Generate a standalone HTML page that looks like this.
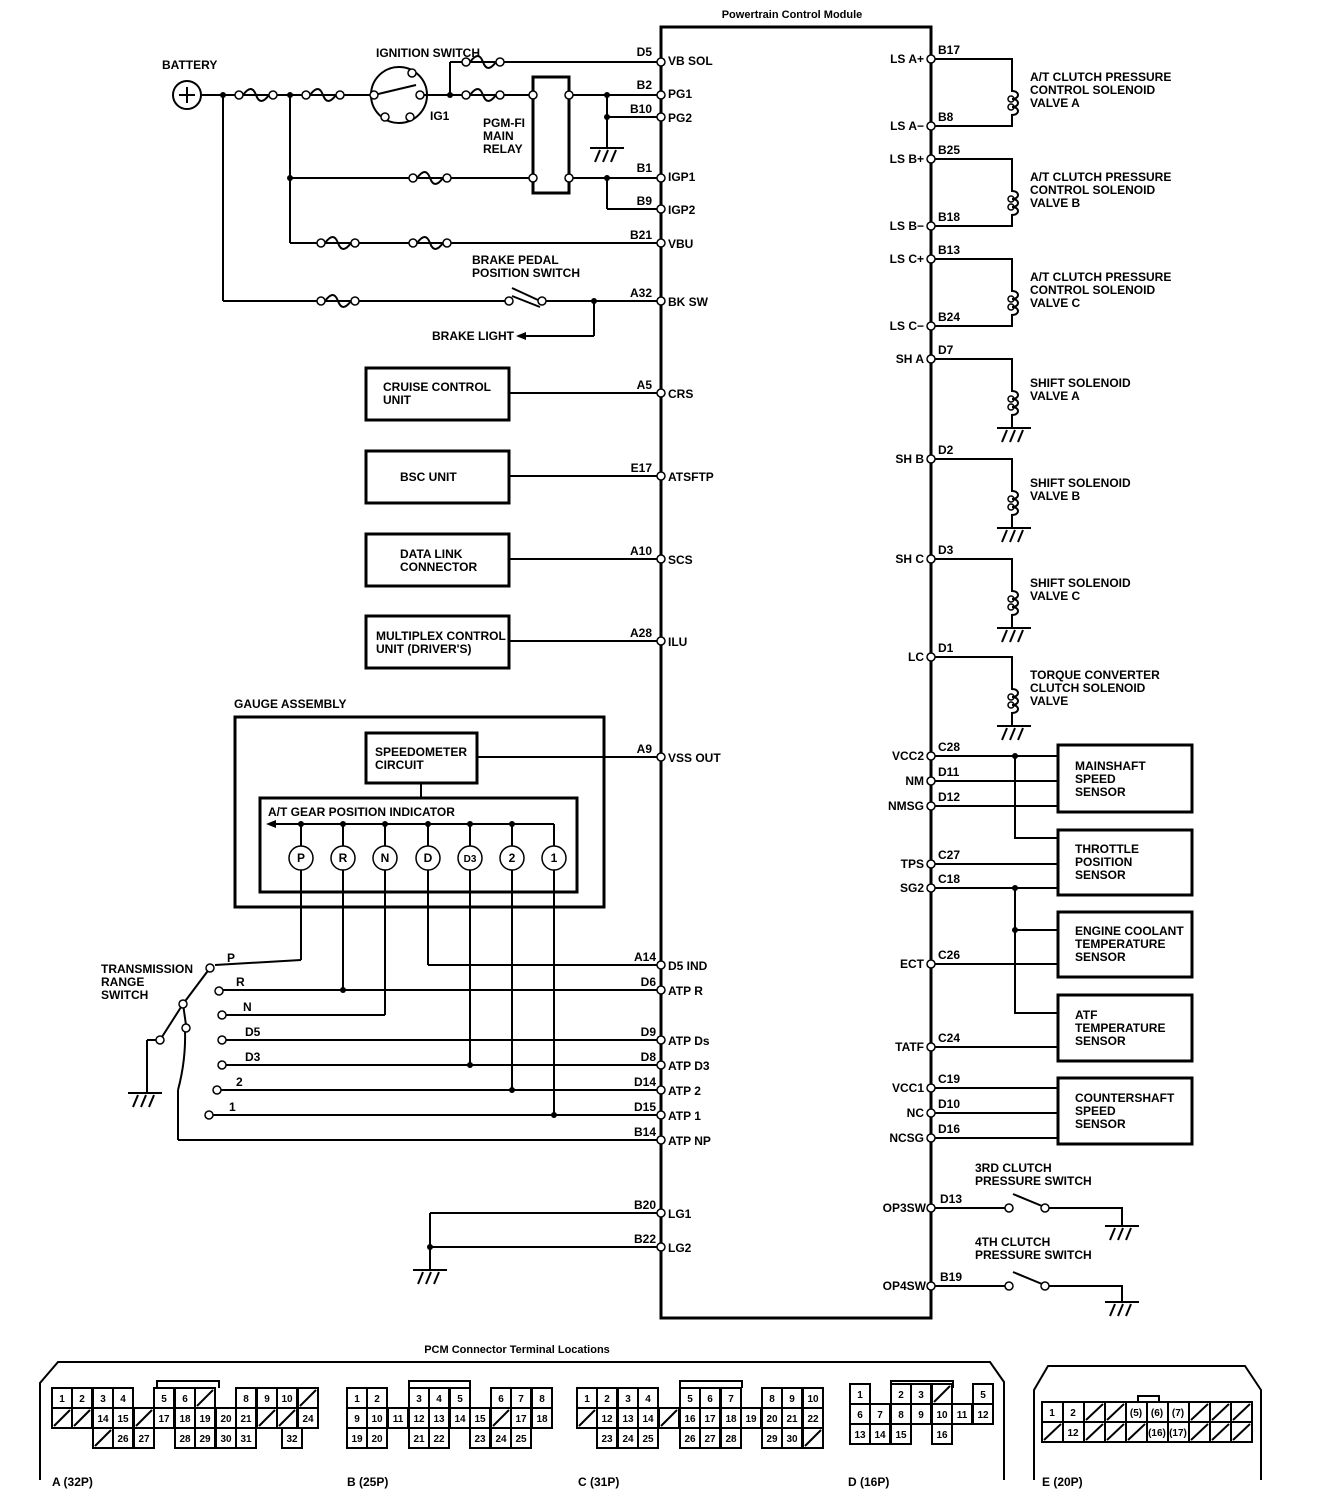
<!DOCTYPE html>
<html><head><meta charset="utf-8"><style>
html,body{margin:0;padding:0;background:#fff}
svg{display:block}
text{font-family:"Liberation Sans Narrow","Liberation Sans",sans-serif;font-weight:bold;font-size:12px;fill:#000}
.w{stroke:#000;stroke-width:2;fill:none}
.t{stroke:#000;stroke-width:3;fill:none}
.p{stroke:#000;stroke-width:1.5;fill:#fff}
.d{fill:#000}
.c rect{fill:#fff;stroke:#000;stroke-width:2}
.c text{font-size:10px;text-anchor:middle}
.s{stroke:#000;stroke-width:2}
</style></head><body>
<svg width="1328" height="1508" viewBox="0 0 1328 1508" xmlns="http://www.w3.org/2000/svg">
<defs>
<g id="fuse"><circle cx="0" cy="0" r="4" class="p"/><path d="M4 0 C10 -8 14 -8 17 0 S24 8 30 0" class="w"/><circle cx="34" cy="0" r="4" class="p"/></g>
<g id="gnd"><line x1="0" y1="0" x2="34" y2="0" class="w"/><line x1="10" y1="2" x2="5" y2="14" class="w"/><line x1="18" y1="2" x2="13" y2="14" class="w"/><line x1="26" y1="2" x2="21" y2="14" class="w"/></g>
<g id="coil"><path d="M0 0 V16 C8 16 8 24 0 24 C8 24 8 32 0 32 C8 32 8 40 0 40 V52" class="w"/><circle cx="-1" cy="24" r="3" class="w" style="stroke-width:1.5"/><circle cx="-1" cy="32" r="3" class="w" style="stroke-width:1.5"/></g>
</defs>

<!-- PCM -->
<rect x="661" y="27" width="270" height="1291" class="t"/>
<text x="792" y="18" text-anchor="middle" style="font-size:11px">Powertrain Control Module</text>

<!-- left wires -->
<g class="w">
<line x1="201" y1="95" x2="374" y2="95"/>
<line x1="223" y1="95" x2="223" y2="301"/><line x1="223" y1="301" x2="509" y2="301"/>
<line x1="290" y1="95" x2="290" y2="243"/><line x1="290" y1="243" x2="660" y2="243"/>
<line x1="290" y1="178" x2="533" y2="178"/>
<line x1="424" y1="95" x2="533" y2="95"/>
<line x1="450" y1="95" x2="450" y2="62"/><line x1="450" y1="62" x2="660" y2="62"/>
<line x1="569" y1="95" x2="660" y2="95"/><line x1="607" y1="95" x2="607" y2="148"/><line x1="607" y1="117" x2="660" y2="117"/>
<line x1="569" y1="178" x2="660" y2="178"/><line x1="607" y1="178" x2="607" y2="209"/><line x1="607" y1="209" x2="660" y2="209"/>
<line x1="542" y1="301" x2="660" y2="301"/><line x1="594" y1="301" x2="594" y2="336"/><line x1="594" y1="336" x2="524" y2="336"/>
<line x1="512" y1="296" x2="540" y2="307" transform="rotate(0)"/>
<line x1="509" y1="297" x2="538" y2="310" style="display:none"/>
<line x1="509" y1="393" x2="660" y2="393"/><line x1="509" y1="476" x2="660" y2="476"/>
<line x1="509" y1="559" x2="660" y2="559"/><line x1="509" y1="641" x2="660" y2="641"/>
<line x1="477" y1="757" x2="660" y2="757"/><line x1="421" y1="783" x2="421" y2="798"/>
</g>
<path d="M516 336 l10 -4 v8 z" class="d"/>
<line x1="512" y1="288" x2="538" y2="300" class="s"/>
<circle cx="509" cy="301" r="4" class="p"/><circle cx="542" cy="301" r="4" class="p"/>
<use href="#fuse" x="239" y="95"/><use href="#fuse" x="306" y="95"/>
<use href="#fuse" x="466" y="62"/><use href="#fuse" x="466" y="95"/>
<use href="#fuse" x="413" y="178"/>
<use href="#fuse" x="321" y="243"/><use href="#fuse" x="413" y="243"/>
<use href="#fuse" x="321" y="301"/>
<use href="#gnd" x="590" y="148"/>
<!-- battery -->
<circle cx="187" cy="95" r="14" class="w"/><line x1="179" y1="95" x2="195" y2="95" class="w"/><line x1="187" y1="87" x2="187" y2="103" class="w"/>
<text x="162" y="69">BATTERY</text>
<!-- ignition switch -->
<circle cx="399" cy="95" r="28" class="w"/>
<line x1="374" y1="95" x2="416" y2="85" class="w"/>
<circle cx="374" cy="95" r="4" class="p"/><circle cx="420" cy="95" r="4" class="p"/><circle cx="412" cy="73" r="4" class="p"/>
<circle cx="385" cy="117" r="4" class="p"/><circle cx="410" cy="117" r="4" class="p"/>
<text x="376" y="57">IGNITION SWITCH</text><text x="430" y="120">IG1</text>
<!-- relay -->
<rect x="533" y="77" width="36" height="116" class="t"/>
<circle cx="533" cy="95" r="4" class="p"/><circle cx="569" cy="95" r="4" class="p"/>
<circle cx="533" cy="178" r="4" class="p"/><circle cx="569" cy="178" r="4" class="p"/>
<text x="483" y="127">PGM-FI</text><text x="483" y="140">MAIN</text><text x="483" y="153">RELAY</text>
<text x="472" y="264">BRAKE PEDAL</text><text x="472" y="277">POSITION SWITCH</text>
<text x="432" y="340">BRAKE LIGHT</text>
<g class="d"><circle cx="223" cy="95" r="3"/><circle cx="290" cy="95" r="3"/><circle cx="450" cy="95" r="3"/><circle cx="290" cy="178" r="3"/><circle cx="607" cy="95" r="3"/><circle cx="607" cy="117" r="3"/><circle cx="607" cy="178" r="3"/><circle cx="594" cy="301" r="3"/></g>

<!-- blocks -->
<g class="t"><rect x="366" y="368" width="143" height="52"/><rect x="366" y="451" width="143" height="52"/><rect x="366" y="534" width="143" height="52"/><rect x="366" y="616" width="143" height="52"/></g>
<text x="383" y="391">CRUISE CONTROL</text><text x="383" y="404">UNIT</text>
<text x="400" y="481">BSC UNIT</text>
<text x="400" y="558">DATA LINK</text><text x="400" y="571">CONNECTOR</text>
<text x="376" y="640">MULTIPLEX CONTROL</text><text x="376" y="653">UNIT (DRIVER'S)</text>

<!-- gauge -->
<text x="234" y="708">GAUGE ASSEMBLY</text>
<rect x="235" y="717" width="369" height="190" class="t"/>
<rect x="366" y="733" width="111" height="50" class="t"/>
<text x="375" y="756">SPEEDOMETER</text><text x="375" y="769">CIRCUIT</text>
<rect x="260" y="798" width="317" height="94" class="t"/>
<text x="268" y="816">A/T GEAR POSITION  INDICATOR</text>
<line x1="272" y1="824" x2="554" y2="824" class="w"/><line x1="554" y1="824" x2="554" y2="846" class="w"/>
<path d="M266 824 l10 -4 v8 z" class="d"/>
<g class="w">
<line x1="301" y1="824" x2="301" y2="846"/><line x1="343" y1="824" x2="343" y2="846"/><line x1="385" y1="824" x2="385" y2="846"/><line x1="428" y1="824" x2="428" y2="846"/><line x1="470" y1="824" x2="470" y2="846"/><line x1="512" y1="824" x2="512" y2="846"/>
<line x1="301" y1="870" x2="301" y2="960"/><line x1="301" y1="960" x2="215" y2="965"/>
<line x1="343" y1="870" x2="343" y2="990"/>
<line x1="385" y1="870" x2="385" y2="1015"/><line x1="385" y1="1015" x2="225" y2="1015"/>
<line x1="428" y1="870" x2="428" y2="965"/><line x1="428" y1="965" x2="660" y2="965"/>
<line x1="470" y1="870" x2="470" y2="1065"/>
<line x1="512" y1="870" x2="512" y2="1090"/>
<line x1="554" y1="870" x2="554" y2="1115"/>
<line x1="222" y1="990" x2="660" y2="990"/>
<line x1="225" y1="1040" x2="660" y2="1040"/>
<line x1="225" y1="1065" x2="660" y2="1065"/>
<line x1="220" y1="1090" x2="660" y2="1090"/>
<line x1="212" y1="1115" x2="660" y2="1115"/>
<line x1="178" y1="1140" x2="660" y2="1140"/>
<line x1="178" y1="1140" x2="178" y2="1090"/><path d="M178 1090 Q186 1060 185 1030"/>
<line x1="210" y1="968" x2="183" y2="1004"/><line x1="183" y1="1004" x2="160" y2="1040"/><line x1="183" y1="1004" x2="186" y2="1025"/>
<line x1="160" y1="1040" x2="147" y2="1040"/><line x1="147" y1="1040" x2="147" y2="1093"/>
<line x1="430" y1="1213" x2="660" y2="1213"/><line x1="430" y1="1213" x2="430" y2="1270"/><line x1="430" y1="1247" x2="660" y2="1247"/>
</g>
<use href="#gnd" x="128" y="1093"/><use href="#gnd" x="413" y="1270"/>
<g class="p"><circle cx="301" cy="858" r="12"/><circle cx="343" cy="858" r="12"/><circle cx="385" cy="858" r="12"/><circle cx="428" cy="858" r="12"/><circle cx="470" cy="858" r="12"/><circle cx="512" cy="858" r="12"/><circle cx="554" cy="858" r="12"/>
<circle cx="210" cy="968" r="4"/><circle cx="219" cy="991" r="4"/><circle cx="222" cy="1015" r="4"/><circle cx="222" cy="1040" r="4"/><circle cx="222" cy="1065" r="4"/><circle cx="217" cy="1090" r="4"/><circle cx="209" cy="1115" r="4"/><circle cx="183" cy="1004" r="4"/><circle cx="160" cy="1040" r="4"/><circle cx="186" cy="1028" r="4"/></g>
<g style="text-anchor:middle"><text x="301" y="862">P</text><text x="343" y="862">R</text><text x="385" y="862">N</text><text x="428" y="862">D</text><text x="470" y="862" style="font-size:10px">D3</text><text x="512" y="862">2</text><text x="554" y="862">1</text></g>
<g class="d"><circle cx="301" cy="824" r="3"/><circle cx="343" cy="824" r="3"/><circle cx="385" cy="824" r="3"/><circle cx="428" cy="824" r="3"/><circle cx="470" cy="824" r="3"/><circle cx="512" cy="824" r="3"/>
<circle cx="343" cy="990" r="3"/><circle cx="470" cy="1065" r="3"/><circle cx="512" cy="1090" r="3"/><circle cx="554" cy="1115" r="3"/><circle cx="430" cy="1247" r="3"/></g>
<text x="101" y="973">TRANSMISSION</text><text x="101" y="986">RANGE</text><text x="101" y="999">SWITCH</text>
<text x="227" y="962">P</text><text x="236" y="986">R</text><text x="243" y="1011">N</text><text x="245" y="1036">D5</text><text x="245" y="1061">D3</text><text x="236" y="1086">2</text><text x="229" y="1111">1</text>

<!-- left pins -->
<g style="text-anchor:end">
<text x="652" y="56">D5</text><text x="652" y="89">B2</text><text x="652" y="113">B10</text><text x="652" y="172">B1</text><text x="652" y="205">B9</text><text x="652" y="239">B21</text><text x="652" y="297">A32</text><text x="652" y="389">A5</text><text x="652" y="472">E17</text><text x="652" y="555">A10</text><text x="652" y="637">A28</text><text x="652" y="753">A9</text><text x="656" y="961">A14</text><text x="656" y="986">D6</text><text x="656" y="1036">D9</text><text x="656" y="1061">D8</text><text x="656" y="1086">D14</text><text x="656" y="1111">D15</text><text x="656" y="1136">B14</text><text x="656" y="1209">B20</text><text x="656" y="1243">B22</text>
</g>
<g>
<text x="668" y="65">VB SOL</text><text x="668" y="98">PG1</text><text x="668" y="122">PG2</text><text x="668" y="181">IGP1</text><text x="668" y="214">IGP2</text><text x="668" y="248">VBU</text><text x="668" y="306">BK SW</text><text x="668" y="398">CRS</text><text x="668" y="481">ATSFTP</text><text x="668" y="564">SCS</text><text x="668" y="646">ILU</text><text x="668" y="762">VSS OUT</text><text x="668" y="970">D5 IND</text><text x="668" y="995">ATP R</text><text x="668" y="1045">ATP Ds</text><text x="668" y="1070">ATP D3</text><text x="668" y="1095">ATP 2</text><text x="668" y="1120">ATP 1</text><text x="668" y="1145">ATP NP</text><text x="668" y="1218">LG1</text><text x="668" y="1252">LG2</text>
</g>
<g class="p">
<circle cx="661" cy="62" r="4"/><circle cx="661" cy="95" r="4"/><circle cx="661" cy="117" r="4"/><circle cx="661" cy="178" r="4"/><circle cx="661" cy="209" r="4"/><circle cx="661" cy="243" r="4"/><circle cx="661" cy="301" r="4"/><circle cx="661" cy="393" r="4"/><circle cx="661" cy="476" r="4"/><circle cx="661" cy="559" r="4"/><circle cx="661" cy="641" r="4"/><circle cx="661" cy="757" r="4"/><circle cx="661" cy="965" r="4"/><circle cx="661" cy="990" r="4"/><circle cx="661" cy="1040" r="4"/><circle cx="661" cy="1065" r="4"/><circle cx="661" cy="1090" r="4"/><circle cx="661" cy="1115" r="4"/><circle cx="661" cy="1140" r="4"/><circle cx="661" cy="1213" r="4"/><circle cx="661" cy="1247" r="4"/>
</g>

<!-- right side -->
<g class="w">
<path d="M931 59 H1012 V75"/><path d="M1012 127 V126 H931"/>
<path d="M931 159 H1012 V175"/><path d="M1012 227 V226 H931"/>
<path d="M931 259 H1012 V275"/><path d="M1012 327 V326 H931"/>
<path d="M931 359 H1012 V375"/><path d="M1012 427 V428"/>
<path d="M931 459 H1012 V475"/><path d="M1012 527 V528"/>
<path d="M931 559 H1012 V575"/><path d="M1012 627 V628"/>
<path d="M931 657 H1012 V673"/><path d="M1012 725 V726"/>
<line x1="931" y1="756" x2="1058" y2="756"/><line x1="931" y1="781" x2="1058" y2="781"/><line x1="931" y1="806" x2="1058" y2="806"/>
<path d="M1015 756 V838 H1058"/>
<line x1="931" y1="864" x2="1058" y2="864"/><line x1="931" y1="888" x2="1058" y2="888"/>
<path d="M1015 888 V1013 H1058"/><line x1="1015" y1="930" x2="1058" y2="930"/>
<line x1="931" y1="964" x2="1058" y2="964"/><line x1="931" y1="1047" x2="1058" y2="1047"/>
<line x1="931" y1="1088" x2="1058" y2="1088"/><line x1="931" y1="1113" x2="1058" y2="1113"/><line x1="931" y1="1138" x2="1058" y2="1138"/>
<path d="M931 1208 H1006"/><path d="M1049 1208 H1122 V1226"/>
<path d="M931 1286 H1006"/><path d="M1049 1286 H1122 V1302"/>
</g>
<line x1="1013" y1="1194" x2="1042" y2="1206" class="s"/><line x1="1013" y1="1272" x2="1042" y2="1284" class="s"/>
<g class="p"><circle cx="1009" cy="1208" r="4"/><circle cx="1045" cy="1208" r="4"/><circle cx="1009" cy="1286" r="4"/><circle cx="1045" cy="1286" r="4"/></g>
<use href="#gnd" x="1105" y="1226"/><use href="#gnd" x="1105" y="1302"/>
<use href="#coil" x="1012" y="75"/><use href="#coil" x="1012" y="175"/><use href="#coil" x="1012" y="275"/><use href="#coil" x="1012" y="375"/><use href="#coil" x="1012" y="475"/><use href="#coil" x="1012" y="575"/><use href="#coil" x="1012" y="673"/>
<use href="#gnd" x="997" y="428"/><use href="#gnd" x="997" y="528"/><use href="#gnd" x="997" y="628"/><use href="#gnd" x="997" y="726"/>
<g class="d"><circle cx="1015" cy="756" r="3"/><circle cx="1015" cy="888" r="3"/><circle cx="1015" cy="930" r="3"/></g>
<g class="t"><rect x="1058" y="745" width="134" height="67"/><rect x="1058" y="830" width="134" height="65"/><rect x="1058" y="912" width="134" height="65"/><rect x="1058" y="995" width="134" height="66"/><rect x="1058" y="1078" width="134" height="66"/></g>
<text x="1030" y="81">A/T CLUTCH PRESSURE</text><text x="1030" y="94">CONTROL SOLENOID</text><text x="1030" y="107">VALVE A</text>
<text x="1030" y="181">A/T CLUTCH PRESSURE</text><text x="1030" y="194">CONTROL SOLENOID</text><text x="1030" y="207">VALVE B</text>
<text x="1030" y="281">A/T CLUTCH PRESSURE</text><text x="1030" y="294">CONTROL SOLENOID</text><text x="1030" y="307">VALVE C</text>
<text x="1030" y="387">SHIFT SOLENOID</text><text x="1030" y="400">VALVE A</text>
<text x="1030" y="487">SHIFT SOLENOID</text><text x="1030" y="500">VALVE B</text>
<text x="1030" y="587">SHIFT SOLENOID</text><text x="1030" y="600">VALVE C</text>
<text x="1030" y="679">TORQUE CONVERTER</text><text x="1030" y="692">CLUTCH SOLENOID</text><text x="1030" y="705">VALVE</text>
<text x="1075" y="770">MAINSHAFT</text><text x="1075" y="783">SPEED</text><text x="1075" y="796">SENSOR</text>
<text x="1075" y="853">THROTTLE</text><text x="1075" y="866">POSITION</text><text x="1075" y="879">SENSOR</text>
<text x="1075" y="935">ENGINE COOLANT</text><text x="1075" y="948">TEMPERATURE</text><text x="1075" y="961">SENSOR</text>
<text x="1075" y="1019">ATF</text><text x="1075" y="1032">TEMPERATURE</text><text x="1075" y="1045">SENSOR</text>
<text x="1075" y="1102">COUNTERSHAFT</text><text x="1075" y="1115">SPEED</text><text x="1075" y="1128">SENSOR</text>
<text x="975" y="1172">3RD CLUTCH</text><text x="975" y="1185">PRESSURE SWITCH</text>
<text x="975" y="1246">4TH CLUTCH</text><text x="975" y="1259">PRESSURE SWITCH</text>
<g>
<text x="938" y="54">B17</text><text x="938" y="121">B8</text><text x="938" y="154">B25</text><text x="938" y="221">B18</text><text x="938" y="254">B13</text><text x="938" y="321">B24</text><text x="938" y="354">D7</text><text x="938" y="454">D2</text><text x="938" y="554">D3</text><text x="938" y="652">D1</text><text x="938" y="751">C28</text><text x="938" y="776">D11</text><text x="938" y="801">D12</text><text x="938" y="859">C27</text><text x="938" y="883">C18</text><text x="938" y="959">C26</text><text x="938" y="1042">C24</text><text x="938" y="1083">C19</text><text x="938" y="1108">D10</text><text x="938" y="1133">D16</text><text x="940" y="1203">D13</text><text x="940" y="1281">B19</text>
</g>
<g style="text-anchor:end">
<text x="924" y="63">LS A+</text><text x="924" y="130">LS A−</text><text x="924" y="163">LS B+</text><text x="924" y="230">LS B−</text><text x="924" y="263">LS C+</text><text x="924" y="330">LS C−</text><text x="924" y="363">SH A</text><text x="924" y="463">SH B</text><text x="924" y="563">SH C</text><text x="924" y="661">LC</text><text x="924" y="760">VCC2</text><text x="924" y="785">NM</text><text x="924" y="810">NMSG</text><text x="924" y="868">TPS</text><text x="924" y="892">SG2</text><text x="924" y="968">ECT</text><text x="924" y="1051">TATF</text><text x="924" y="1092">VCC1</text><text x="924" y="1117">NC</text><text x="924" y="1142">NCSG</text><text x="926" y="1212">OP3SW</text><text x="926" y="1290">OP4SW</text>
</g>
<g class="p">
<circle cx="931" cy="59" r="4"/><circle cx="931" cy="126" r="4"/><circle cx="931" cy="159" r="4"/><circle cx="931" cy="226" r="4"/><circle cx="931" cy="259" r="4"/><circle cx="931" cy="326" r="4"/><circle cx="931" cy="359" r="4"/><circle cx="931" cy="459" r="4"/><circle cx="931" cy="559" r="4"/><circle cx="931" cy="657" r="4"/><circle cx="931" cy="756" r="4"/><circle cx="931" cy="781" r="4"/><circle cx="931" cy="806" r="4"/><circle cx="931" cy="864" r="4"/><circle cx="931" cy="888" r="4"/><circle cx="931" cy="964" r="4"/><circle cx="931" cy="1047" r="4"/><circle cx="931" cy="1088" r="4"/><circle cx="931" cy="1113" r="4"/><circle cx="931" cy="1138" r="4"/><circle cx="931" cy="1208" r="4"/><circle cx="931" cy="1286" r="4"/>
</g>

<!-- connectors -->
<text x="517" y="1353" text-anchor="middle" style="font-size:11px">PCM Connector Terminal Locations</text>
<path d="M40 1480 V1383 L58 1362 H990 L1004 1382 V1480" class="w"/>
<path d="M1034 1480 V1390 L1048 1366 H1245 L1261 1390 V1480" class="w"/>
<g class="w"><path d="M157 1388 V1381 H219 V1388"/><path d="M409 1388 V1381 H470 V1388"/><path d="M680 1388 V1381 H742 V1388"/><path d="M891 1388 V1381 H953 V1388"/><rect x="1138" y="1396" width="21" height="6"/></g>
<g class="c">
<!-- A -->
<rect x="52" y="1388" width="20" height="20"/><text x="62" y="1402">1</text>
<rect x="72" y="1388" width="20" height="20"/><text x="82" y="1402">2</text>
<rect x="93" y="1388" width="20" height="20"/><text x="103" y="1402">3</text>
<rect x="113" y="1388" width="20" height="20"/><text x="123" y="1402">4</text>
<rect x="154" y="1388" width="20" height="20"/><text x="164" y="1402">5</text>
<rect x="175" y="1388" width="20" height="20"/><text x="185" y="1402">6</text>
<rect x="195" y="1388" width="20" height="20"/>
<rect x="236" y="1388" width="20" height="20"/><text x="246" y="1402">8</text>
<rect x="257" y="1388" width="20" height="20"/><text x="267" y="1402">9</text>
<rect x="277" y="1388" width="20" height="20"/><text x="287" y="1402">10</text>
<rect x="298" y="1388" width="20" height="20"/>
<rect x="52" y="1408" width="20" height="20"/><rect x="72" y="1408" width="20" height="20"/>
<rect x="93" y="1408" width="20" height="20"/><text x="103" y="1422">14</text>
<rect x="113" y="1408" width="20" height="20"/><text x="123" y="1422">15</text>
<rect x="134" y="1408" width="20" height="20"/>
<rect x="154" y="1408" width="20" height="20"/><text x="164" y="1422">17</text>
<rect x="175" y="1408" width="20" height="20"/><text x="185" y="1422">18</text>
<rect x="195" y="1408" width="20" height="20"/><text x="205" y="1422">19</text>
<rect x="216" y="1408" width="20" height="20"/><text x="226" y="1422">20</text>
<rect x="236" y="1408" width="20" height="20"/><text x="246" y="1422">21</text>
<rect x="257" y="1408" width="20" height="20"/><rect x="277" y="1408" width="20" height="20"/>
<rect x="298" y="1408" width="20" height="20"/><text x="308" y="1422">24</text>
<rect x="93" y="1428" width="20" height="20"/>
<rect x="113" y="1428" width="20" height="20"/><text x="123" y="1442">26</text>
<rect x="134" y="1428" width="20" height="20"/><text x="144" y="1442">27</text>
<rect x="175" y="1428" width="20" height="20"/><text x="185" y="1442">28</text>
<rect x="195" y="1428" width="20" height="20"/><text x="205" y="1442">29</text>
<rect x="216" y="1428" width="20" height="20"/><text x="226" y="1442">30</text>
<rect x="236" y="1428" width="20" height="20"/><text x="246" y="1442">31</text>
<rect x="282" y="1428" width="20" height="20"/><text x="292" y="1442">32</text>
<!-- B -->
<rect x="347" y="1388" width="20" height="20"/><text x="357" y="1402">1</text>
<rect x="367" y="1388" width="20" height="20"/><text x="377" y="1402">2</text>
<rect x="409" y="1388" width="20" height="20"/><text x="419" y="1402">3</text>
<rect x="429" y="1388" width="20" height="20"/><text x="439" y="1402">4</text>
<rect x="450" y="1388" width="20" height="20"/><text x="460" y="1402">5</text>
<rect x="491" y="1388" width="20" height="20"/><text x="501" y="1402">6</text>
<rect x="511" y="1388" width="20" height="20"/><text x="521" y="1402">7</text>
<rect x="532" y="1388" width="20" height="20"/><text x="542" y="1402">8</text>
<rect x="347" y="1408" width="20" height="20"/><text x="357" y="1422">9</text>
<rect x="367" y="1408" width="20" height="20"/><text x="377" y="1422">10</text>
<rect x="388" y="1408" width="20" height="20"/><text x="398" y="1422">11</text>
<rect x="409" y="1408" width="20" height="20"/><text x="419" y="1422">12</text>
<rect x="429" y="1408" width="20" height="20"/><text x="439" y="1422">13</text>
<rect x="450" y="1408" width="20" height="20"/><text x="460" y="1422">14</text>
<rect x="470" y="1408" width="20" height="20"/><text x="480" y="1422">15</text>
<rect x="491" y="1408" width="20" height="20"/>
<rect x="511" y="1408" width="20" height="20"/><text x="521" y="1422">17</text>
<rect x="532" y="1408" width="20" height="20"/><text x="542" y="1422">18</text>
<rect x="347" y="1428" width="20" height="20"/><text x="357" y="1442">19</text>
<rect x="367" y="1428" width="20" height="20"/><text x="377" y="1442">20</text>
<rect x="409" y="1428" width="20" height="20"/><text x="419" y="1442">21</text>
<rect x="429" y="1428" width="20" height="20"/><text x="439" y="1442">22</text>
<rect x="470" y="1428" width="20" height="20"/><text x="480" y="1442">23</text>
<rect x="491" y="1428" width="20" height="20"/><text x="501" y="1442">24</text>
<rect x="511" y="1428" width="20" height="20"/><text x="521" y="1442">25</text>
<!-- C -->
<rect x="577" y="1388" width="20" height="20"/><text x="587" y="1402">1</text>
<rect x="597" y="1388" width="20" height="20"/><text x="607" y="1402">2</text>
<rect x="618" y="1388" width="20" height="20"/><text x="628" y="1402">3</text>
<rect x="638" y="1388" width="20" height="20"/><text x="648" y="1402">4</text>
<rect x="680" y="1388" width="20" height="20"/><text x="690" y="1402">5</text>
<rect x="700" y="1388" width="20" height="20"/><text x="710" y="1402">6</text>
<rect x="721" y="1388" width="20" height="20"/><text x="731" y="1402">7</text>
<rect x="762" y="1388" width="20" height="20"/><text x="772" y="1402">8</text>
<rect x="782" y="1388" width="20" height="20"/><text x="792" y="1402">9</text>
<rect x="803" y="1388" width="20" height="20"/><text x="813" y="1402">10</text>
<rect x="577" y="1408" width="20" height="20"/>
<rect x="597" y="1408" width="20" height="20"/><text x="607" y="1422">12</text>
<rect x="618" y="1408" width="20" height="20"/><text x="628" y="1422">13</text>
<rect x="638" y="1408" width="20" height="20"/><text x="648" y="1422">14</text>
<rect x="659" y="1408" width="20" height="20"/>
<rect x="680" y="1408" width="20" height="20"/><text x="690" y="1422">16</text>
<rect x="700" y="1408" width="20" height="20"/><text x="710" y="1422">17</text>
<rect x="721" y="1408" width="20" height="20"/><text x="731" y="1422">18</text>
<rect x="741" y="1408" width="20" height="20"/><text x="751" y="1422">19</text>
<rect x="762" y="1408" width="20" height="20"/><text x="772" y="1422">20</text>
<rect x="782" y="1408" width="20" height="20"/><text x="792" y="1422">21</text>
<rect x="803" y="1408" width="20" height="20"/><text x="813" y="1422">22</text>
<rect x="597" y="1428" width="20" height="20"/><text x="607" y="1442">23</text>
<rect x="618" y="1428" width="20" height="20"/><text x="628" y="1442">24</text>
<rect x="638" y="1428" width="20" height="20"/><text x="648" y="1442">25</text>
<rect x="680" y="1428" width="20" height="20"/><text x="690" y="1442">26</text>
<rect x="700" y="1428" width="20" height="20"/><text x="710" y="1442">27</text>
<rect x="721" y="1428" width="20" height="20"/><text x="731" y="1442">28</text>
<rect x="762" y="1428" width="20" height="20"/><text x="772" y="1442">29</text>
<rect x="782" y="1428" width="20" height="20"/><text x="792" y="1442">30</text>
<rect x="803" y="1428" width="20" height="20"/>
<!-- D -->
<rect x="850" y="1384" width="20" height="20"/><text x="860" y="1398">1</text>
<rect x="891" y="1384" width="20" height="20"/><text x="901" y="1398">2</text>
<rect x="911" y="1384" width="20" height="20"/><text x="921" y="1398">3</text>
<rect x="932" y="1384" width="20" height="20"/>
<rect x="973" y="1384" width="20" height="20"/><text x="983" y="1398">5</text>
<rect x="850" y="1404" width="20" height="20"/><text x="860" y="1418">6</text>
<rect x="870" y="1404" width="20" height="20"/><text x="880" y="1418">7</text>
<rect x="891" y="1404" width="20" height="20"/><text x="901" y="1418">8</text>
<rect x="911" y="1404" width="20" height="20"/><text x="921" y="1418">9</text>
<rect x="932" y="1404" width="20" height="20"/><text x="942" y="1418">10</text>
<rect x="952" y="1404" width="20" height="20"/><text x="962" y="1418">11</text>
<rect x="973" y="1404" width="20" height="20"/><text x="983" y="1418">12</text>
<rect x="850" y="1424" width="20" height="20"/><text x="860" y="1438">13</text>
<rect x="870" y="1424" width="20" height="20"/><text x="880" y="1438">14</text>
<rect x="891" y="1424" width="20" height="20"/><text x="901" y="1438">15</text>
<rect x="932" y="1424" width="20" height="20"/><text x="942" y="1438">16</text>
<!-- E -->
<rect x="1042" y="1402" width="21" height="20"/><text x="1052" y="1416">1</text>
<rect x="1063" y="1402" width="21" height="20"/><text x="1073" y="1416">2</text>
<rect x="1084" y="1402" width="21" height="20"/><rect x="1105" y="1402" width="21" height="20"/>
<rect x="1126" y="1402" width="21" height="20"/><text x="1136" y="1416">(5)</text>
<rect x="1147" y="1402" width="21" height="20"/><text x="1157" y="1416">(6)</text>
<rect x="1168" y="1402" width="21" height="20"/><text x="1178" y="1416">(7)</text>
<rect x="1189" y="1402" width="21" height="20"/><rect x="1210" y="1402" width="21" height="20"/><rect x="1231" y="1402" width="21" height="20"/>
<rect x="1042" y="1422" width="21" height="20"/>
<rect x="1063" y="1422" width="21" height="20"/><text x="1073" y="1436">12</text>
<rect x="1084" y="1422" width="21" height="20"/><rect x="1105" y="1422" width="21" height="20"/><rect x="1126" y="1422" width="21" height="20"/>
<rect x="1147" y="1422" width="21" height="20"/><text x="1157" y="1436">(16)</text>
<rect x="1168" y="1422" width="21" height="20"/><text x="1178" y="1436">(17)</text>
<rect x="1189" y="1422" width="21" height="20"/><rect x="1210" y="1422" width="21" height="20"/><rect x="1231" y="1422" width="21" height="20"/>
</g>
<!-- slashes -->
<g class="s">
<line x1="197" y1="1406" x2="213" y2="1390"/><line x1="300" y1="1406" x2="316" y2="1390"/>
<line x1="54" y1="1426" x2="70" y2="1410"/><line x1="74" y1="1426" x2="90" y2="1410"/><line x1="136" y1="1426" x2="152" y2="1410"/><line x1="259" y1="1426" x2="275" y2="1410"/><line x1="279" y1="1426" x2="295" y2="1410"/>
<line x1="95" y1="1446" x2="111" y2="1430"/>
<line x1="493" y1="1426" x2="509" y2="1410"/>
<line x1="579" y1="1426" x2="595" y2="1410"/><line x1="661" y1="1426" x2="677" y2="1410"/><line x1="805" y1="1446" x2="821" y2="1430"/>
<line x1="934" y1="1402" x2="950" y2="1386"/>
<line x1="1086" y1="1420" x2="1103" y2="1404"/><line x1="1107" y1="1420" x2="1124" y2="1404"/><line x1="1191" y1="1420" x2="1208" y2="1404"/><line x1="1212" y1="1420" x2="1229" y2="1404"/><line x1="1233" y1="1420" x2="1250" y2="1404"/>
<line x1="1044" y1="1440" x2="1061" y2="1424"/><line x1="1086" y1="1440" x2="1103" y2="1424"/><line x1="1107" y1="1440" x2="1124" y2="1424"/><line x1="1128" y1="1440" x2="1145" y2="1424"/><line x1="1191" y1="1440" x2="1208" y2="1424"/><line x1="1212" y1="1440" x2="1229" y2="1424"/><line x1="1233" y1="1440" x2="1250" y2="1424"/>
</g>
<text x="52" y="1486">A (32P)</text><text x="347" y="1486">B (25P)</text><text x="578" y="1486">C (31P)</text><text x="848" y="1486">D (16P)</text><text x="1042" y="1486">E (20P)</text>
</svg>
</body></html>
